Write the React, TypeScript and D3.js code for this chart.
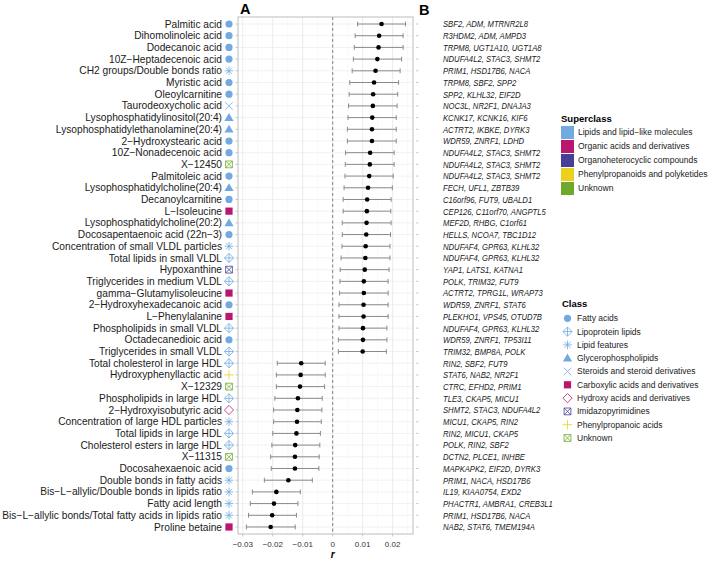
import React from "react";
import * as d3 from "d3";

// metabolites, top to bottom
const metabolites = [
  "Palmitic acid", "Dihomolinoleic acid", "Dodecanoic acid", "10Z\u2212Heptadecenoic acid",
  "CH2 groups/Double bonds ratio", "Myristic acid", "Oleoylcarnitine", "Taurodeoxycholic acid",
  "Lysophosphatidylinositol(20:4)", "Lysophosphatidylethanolamine(20:4)", "2\u2212Hydroxystearic acid",
  "10Z\u2212Nonadecenoic acid", "X\u221212450", "Palmitoleic acid", "Lysophosphatidylcholine(20:4)",
  "Decanoylcarnitine", "L\u2212Isoleucine", "Lysophosphatidylcholine(20:2)", "Docosapentaenoic acid (22n\u22123)",
  "Concentration of small VLDL particles", "Total lipids in small VLDL", "Hypoxanthine",
  "Triglycerides in medium VLDL", "gamma\u2212Glutamylisoleucine", "2\u2212Hydroxyhexadecanoic acid",
  "L\u2212Phenylalanine", "Phospholipids in small VLDL", "Octadecanedioic acid", "Triglycerides in small VLDL",
  "Total cholesterol in large HDL", "Hydroxyphenyllactic acid", "X\u221212329", "Phospholipids in large HDL",
  "2\u2212Hydroxyisobutyric acid", "Concentration of large HDL particles", "Total lipids in large HDL",
  "Cholesterol esters in large HDL", "X\u221211315", "Docosahexaenoic acid", "Double bonds in fatty acids",
  "Bis\u2212L\u2212allylic/Double bonds in lipids ratio", "Fatty acid length",
  "Bis\u2212L\u2212allylic bonds/Total fatty acids in lipids ratio", "Proline betaine",
];

const metaboliteClass = [
  "Fatty acids", "Fatty acids", "Fatty acids", "Fatty acids", "Lipid features", "Fatty acids", "Fatty acids",
  "Steroids and steroid derivatives", "Glycerophospholipids", "Glycerophospholipids", "Fatty acids",
  "Fatty acids", "Unknown", "Fatty acids", "Glycerophospholipids", "Fatty acids",
  "Carboxylic acids and derivatives", "Glycerophospholipids", "Fatty acids", "Lipid features",
  "Lipoprotein lipids", "Imidazopyrimidines", "Lipoprotein lipids", "Carboxylic acids and derivatives",
  "Fatty acids", "Carboxylic acids and derivatives", "Lipoprotein lipids", "Fatty acids", "Lipoprotein lipids",
  "Lipoprotein lipids", "Phenylpropanoic acids", "Unknown", "Lipoprotein lipids",
  "Hydroxy acids and derivatives", "Lipid features", "Lipoprotein lipids", "Lipoprotein lipids", "Unknown",
  "Fatty acids", "Lipid features", "Lipid features", "Lipid features", "Lipid features",
  "Carboxylic acids and derivatives",
];

const rValue = [
  0.0163, 0.0155, 0.0153, 0.0149, 0.0143, 0.0138, 0.0135, 0.0134, 0.0132, 0.0131, 0.0131,
  0.0125, 0.0124, 0.0122, 0.0118, 0.0115, 0.0114, 0.0113, 0.0112, 0.011, 0.0109, 0.0107,
  0.0104, 0.0104, 0.0103, 0.0103, 0.0101, 0.0101, 0.01, -0.0105, -0.0107, -0.0109, -0.0116,
  -0.0118, -0.0119, -0.0121, -0.0125, -0.0126, -0.0126, -0.0148, -0.0188, -0.0196, -0.0202, -0.0207,
];

const ciLow = [
  0.0083, 0.0075, 0.0072, 0.0069, 0.0065, 0.0057, 0.0055, 0.0053, 0.0051, 0.0049, 0.0049,
  0.0043, 0.0042, 0.0041, 0.0038, 0.0035, 0.0035, 0.0032, 0.0032, 0.0031, 0.0028, 0.0025,
  0.0024, 0.0023, 0.0021, 0.0021, 0.0021, 0.0019, 0.0019, -0.0185, -0.0188, -0.0188, -0.0193,
  -0.0197, -0.0197, -0.02, -0.0203, -0.0207, -0.0205, -0.0228, -0.0268, -0.0275, -0.0281, -0.0288,
];

const ciHigh = [
  0.0243, 0.0235, 0.0235, 0.023, 0.0225, 0.022, 0.0217, 0.0215, 0.0212, 0.0212, 0.0212,
  0.0205, 0.0205, 0.0202, 0.0199, 0.0195, 0.0194, 0.0195, 0.0193, 0.0191, 0.0191, 0.0188,
  0.0185, 0.0185, 0.0185, 0.0185, 0.0181, 0.0181, 0.0179, -0.0025, -0.0025, -0.0027, -0.0035,
  -0.0036, -0.0038, -0.0041, -0.0043, -0.0045, -0.0046, -0.0068, -0.0108, -0.0116, -0.0121, -0.0125,
];

const genes = [
  "SBF2, ADM, MTRNR2L8", "R3HDM2, ADM, AMPD3", "TRPM8, UGT1A10, UGT1A8", "NDUFA4L2, STAC3, SHMT2",
  "PRIM1, HSD17B6, NACA", "TRPM8, SBF2, SPP2", "SPP2, KLHL32, EIF2D", "NOC3L, NR2F1, DNAJA3",
  "KCNK17, KCNK16, KIF6", "ACTRT2, IKBKE, DYRK3", "WDR59, ZNRF1, LDHD", "NDUFA4L2, STAC3, SHMT2",
  "NDUFA4L2, STAC3, SHMT2", "NDUFA4L2, STAC3, SHMT2", "FECH, UFL1, ZBTB39", "C16orf96, FUT9, UBALD1",
  "CEP126, C11orf70, ANGPTL5", "MEF2D, RHBG, C1orf61", "HELLS, NCOA7, TBC1D12", "NDUFAF4, GPR63, KLHL32",
  "NDUFAF4, GPR63, KLHL32", "YAP1, LATS1, KATNA1", "POLK, TRIM32, FUT9", "ACTRT2, TPRG1L, WRAP73",
  "WDR59, ZNRF1, STAT6", "PLEKHO1, VPS45, OTUD7B", "NDUFAF4, GPR63, KLHL32", "WDR59, ZNRF1, TP53I11",
  "TRIM32, BMP8A, POLK", "RIN2, SBF2, FUT9", "STAT6, NAB2, NR2F1", "CTRC, EFHD2, PRIM1",
  "TLE3, CKAP5, MICU1", "SHMT2, STAC3, NDUFA4L2", "MICU1, CKAP5, RIN2", "RIN2, MICU1, CKAP5",
  "POLK, RIN2, SBF2", "DCTN2, PLCE1, INHBE", "MAPKAPK2, EIF2D, DYRK3", "PRIM1, NACA, HSD17B6",
  "IL19, KIAA0754, EXD2", "PHACTR1, AMBRA1, CREB3L1", "PRIM1, HSD17B6, NACA", "NAB2, STAT6, TMEM194A",
];

const superclasses = [
  "Lipids and lipid\u2212like molecules", "Organic acids and derivatives", "Organoheterocyclic compounds",
  "Phenylpropanoids and polyketides", "Unknown",
];

const classes = [
  "Fatty acids", "Lipoprotein lipids", "Lipid features", "Glycerophospholipids",
  "Steroids and steroid derivatives", "Carboxylic acids and derivatives", "Hydroxy acids and derivatives",
  "Imidazopyrimidines", "Phenylpropanoic acids", "Unknown",
];
const classSuperclass = [0, 0, 0, 0, 0, 1, 1, 2, 3, 4];

const xTicks = [-0.03, -0.02, -0.01, 0, 0.01, 0.02];

const superColors = ["#71a9e0", "#b8166f", "#463f96", "#ebd01c", "#70a82c"];
const shapeOf: Record<string, string> = {
  "Fatty acids": "circle",
  "Lipoprotein lipids": "diamondPlus",
  "Lipid features": "asterisk",
  "Glycerophospholipids": "triangle",
  "Steroids and steroid derivatives": "cross",
  "Carboxylic acids and derivatives": "square",
  "Hydroxy acids and derivatives": "diamond",
  "Imidazopyrimidines": "squareX",
  "Phenylpropanoic acids": "plus",
  "Unknown": "squareX",
};

const FONT = "'Liberation Sans', Arial, Helvetica, sans-serif";
const GENE_SCALE = 0.8; // gene labels are set in a condensed face

function colorOfClass(c: string) {
  return superColors[classSuperclass[classes.indexOf(c)]];
}

function Shape({ cls, x, y }: { cls: string; x: number; y: number }) {
  const col = colorOfClass(cls);
  const kind = shapeOf[cls];
  const sw = 0.8;
  const t = `translate(${x},${y})`;
  if (kind === "circle") return <circle cx={x} cy={y} r={3.6} fill={col} />;
  if (kind === "triangle")
    return <path transform={t} d="M0,-4.6L4.6,3.3L-4.6,3.3Z" fill={col} />;
  if (kind === "square") return <rect x={x - 3.6} y={y - 3.6} width={7.2} height={7.2} fill={col} />;
  if (kind === "diamond")
    return <path transform={t} d="M0,-4.6L4.6,0L0,4.6L-4.6,0Z" fill="none" stroke={col} strokeWidth={sw} />;
  if (kind === "diamondPlus")
    return (
      <path transform={t} d="M0,-4.6L4.6,0L0,4.6L-4.6,0ZM-4.6,0H4.6M0,-4.6V4.6" fill="none" stroke={col} strokeWidth={sw} />
    );
  if (kind === "asterisk")
    return (
      <path transform={t} d="M-4.4,0H4.4M0,-4.4V4.4M-3.2,-3.2L3.2,3.2M-3.2,3.2L3.2,-3.2" fill="none" stroke={col} strokeWidth={sw} />
    );
  if (kind === "cross")
    return <path transform={t} d="M-3.8,-3.8L3.8,3.8M-3.8,3.8L3.8,-3.8" fill="none" stroke={col} strokeWidth={sw} />;
  if (kind === "plus")
    return <path transform={t} d="M-4.8,0H4.8M0,-4.8V4.8" fill="none" stroke={col} strokeWidth={sw} />;
  // squareX
  return (
    <path transform={t} d="M-3.4,-3.4H3.4V3.4H-3.4ZM-3.4,-3.4L3.4,3.4M-3.4,3.4L3.4,-3.4" fill="none" stroke={col} strokeWidth={sw} />
  );
}

const App = () => {
  const panel = { left: 238, right: 413, top: 17, bottom: 534 };

  const x = d3.scaleLinear().domain([-0.0316, 0.0268]).range([panel.left, panel.right]);
  const y = d3.scalePoint<string>().domain(metabolites).range([panel.top, panel.bottom]).padding(0.6);
  const minorTicks = d3.range(-0.035, 0.03, 0.01).filter((v) => x(v) > panel.left && x(v) < panel.right);

  const rows = metabolites.map((m, i) => ({
    name: m,
    cls: metaboliteClass[i],
    r: rValue[i],
    lo: ciLow[i],
    hi: ciHigh[i],
    gene: genes[i],
  }));

  return (
    <div style={{ position: "absolute", left: 0, top: 0 }}>
      <svg width={708} height={561} style={{ display: "block", fontFamily: FONT }}>
        <rect width={708} height={561} fill="#fff" />
        <text x={240} y={14} fontSize={14.5} fontWeight="bold" fill="#000">A</text>
        <text x={419} y={15} fontSize={14.5} fontWeight="bold" fill="#000">B</text>

        {/* panel A grid */}
        {minorTicks.map((v) => (
          <line key={"mn" + v} x1={x(v)} x2={x(v)} y1={panel.top} y2={panel.bottom} stroke="#f3f3f3" strokeWidth={0.5} />
        ))}
        {xTicks.map((v) => (
          <line key={"mj" + v} x1={x(v)} x2={x(v)} y1={panel.top} y2={panel.bottom} stroke="#e6e6e6" strokeWidth={0.8} />
        ))}
        {rows.map((d) => (
          <line key={"hg" + d.name} x1={panel.left} x2={panel.right} y1={y(d.name)} y2={y(d.name)} stroke="#ececec" strokeWidth={0.7} />
        ))}
        <line x1={x(0)} x2={x(0)} y1={panel.top} y2={panel.bottom} stroke="#666" strokeWidth={0.8} strokeDasharray="3,2.5" />

        {/* error bars and points */}
        {rows.map((d) => {
          const yy = y(d.name) as number;
          return (
            <g key={"eb" + d.name}>
              <line x1={x(d.lo)} x2={x(d.hi)} y1={yy} y2={yy} stroke="#8a8a8a" strokeWidth={1} />
              <line x1={x(d.lo)} x2={x(d.lo)} y1={yy - 2.4} y2={yy + 2.4} stroke="#8a8a8a" strokeWidth={1} />
              <line x1={x(d.hi)} x2={x(d.hi)} y1={yy - 2.4} y2={yy + 2.4} stroke="#8a8a8a" strokeWidth={1} />
              <circle cx={x(d.r)} cy={yy} r={2.3} fill="#000" />
            </g>
          );
        })}

        <rect x={panel.left} y={panel.top} width={panel.right - panel.left} height={panel.bottom - panel.top}
          fill="none" stroke="#bdbdbd" strokeWidth={1} />

        {/* y ticks, labels and class symbols */}
        {rows.map((d) => {
          const yy = y(d.name) as number;
          return (
            <g key={"lb" + d.name}>
              <line x1={panel.left - 2.5} x2={panel.left} y1={yy} y2={yy} stroke="#bdbdbd" strokeWidth={0.8} />
              <text x={222} y={yy} dy="0.35em" textAnchor="end" fontSize={10.2} fill="#1a1a1a">{d.name}</text>
              <Shape cls={d.cls} x={229} y={yy} />
              <line x1={416} x2={418.5} y1={yy} y2={yy} stroke="#bdbdbd" strokeWidth={0.8} />
              <text transform={`translate(443,${yy}) scale(${GENE_SCALE},1)`} dy="0.35em" fontSize={9.6}
                fontStyle="italic" fill="#1a1a1a">{d.gene}</text>
            </g>
          );
        })}

        {/* x axis */}
        {xTicks.map((v) => (
          <g key={"xt" + v}>
            <line x1={x(v)} x2={x(v)} y1={panel.bottom} y2={panel.bottom + 2.5} stroke="#bdbdbd" strokeWidth={0.8} />
            <text x={x(v)} y={panel.bottom + 13} textAnchor="middle" fontSize={8} fill="#333">
              {v === 0 ? "0" : d3.format(".2f")(v).replace("-", "\u2212")}
            </text>
          </g>
        ))}
        <text x={x(0)} y={558} textAnchor="middle" fontSize={10} fontWeight="bold" fontStyle="italic" fill="#000">r</text>

        {/* superclass legend */}
        <text x={561} y={122} fontSize={9.5} fontWeight="bold" fill="#000">Superclass</text>
        {superclasses.map((s, i) => (
          <g key={"sc" + s}>
            <rect x={561} y={126 + i * 14} width={13} height={13} fill={superColors[i]} />
            <text x={578} y={132.5 + i * 14} dy="0.35em" fontSize={8.5} fill="#1a1a1a">{s}</text>
          </g>
        ))}

        {/* class legend */}
        <text x={562} y={306.5} fontSize={9.5} fontWeight="bold" fill="#000">Class</text>
        {classes.map((c, i) => (
          <g key={"cl" + c}>
            <Shape cls={c} x={567.5} y={318.3 + i * 13.3} />
            <text x={577} y={318.3 + i * 13.3} dy="0.35em" fontSize={8.5} fill="#1a1a1a">{c}</text>
          </g>
        ))}
      </svg>
    </div>
  );
};

export default App;
